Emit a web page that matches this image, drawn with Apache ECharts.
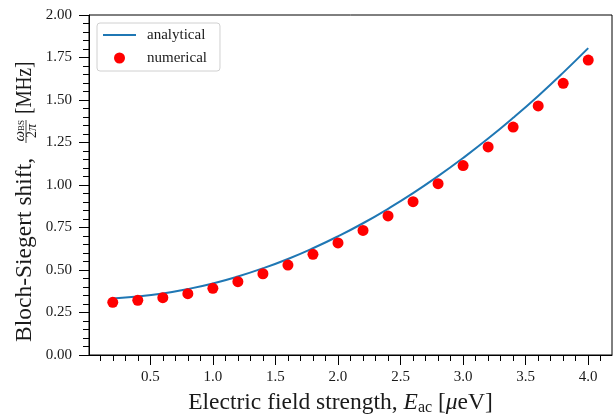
<!DOCTYPE html>
<html>
<head>
<meta charset="utf-8">
<script src="https://cdn.jsdelivr.net/npm/echarts@6/dist/echarts.min.js"></script>
<style>
  html, body { margin: 0; padding: 0; background: #fff; }
  #main { width: 613px; height: 414px; }
</style>
</head>
<body>
<div id="main"></div>
<script>
    // field strength E_ac [ueV]
    var fieldValues = [0.2, 0.4, 0.6, 0.8, 1.0, 1.2, 1.4, 1.6, 1.8, 2.0,
                       2.2, 2.4, 2.6, 2.8, 3.0, 3.2, 3.4, 3.6, 3.8, 4.0];
    // analytical curve
    var analyticalValues = [0.333, 0.344, 0.362, 0.388, 0.421, 0.462, 0.510, 0.565, 0.628, 0.698,
                            0.775, 0.860, 0.952, 1.052, 1.159, 1.273, 1.395, 1.524, 1.661, 1.805];
    // numerical points
    var numericalValues = [0.310, 0.322, 0.337, 0.361, 0.392, 0.431, 0.478, 0.529, 0.592, 0.659,
                           0.733, 0.818, 0.902, 1.008, 1.114, 1.224, 1.341, 1.465, 1.598, 1.735];
    var xMajorTicks = [0.5, 1.0, 1.5, 2.0, 2.5, 3.0, 3.5, 4.0];
    var xMinorTicks = [0.1, 0.2, 0.3, 0.4, 0.6, 0.7, 0.8, 0.9, 1.1, 1.2, 1.3, 1.4, 1.6, 1.7, 1.8, 1.9,
                       2.1, 2.2, 2.3, 2.4, 2.6, 2.7, 2.8, 2.9, 3.1, 3.2, 3.3, 3.4, 3.6, 3.7, 3.8, 3.9, 4.1];

    var serif = "'Liberation Serif', 'DejaVu Serif', serif";
    var ink = '#1a1a1a';

    function pairs(xs, ys) {
        var out = [];
        for (var i = 0; i < xs.length; i++) out.push([xs[i], ys[i]]);
        return out;
    }

    var chart = echarts.init(document.getElementById('main'), null, {renderer: 'canvas'});
    var option = {
        animation: false,
        grid: {
            left: 89, right: 1, top: 15, bottom: 59,
            outerBoundsMode: 'none',
            containLabel: false,
            show: true, borderColor: '#000', borderWidth: 1,
            backgroundColor: 'transparent'
        },
        legend: {
            orient: 'vertical',
            left: 97, top: 23,
            padding: [4, 13, 5, 5],
            itemWidth: 33, itemHeight: 11, itemGap: 7,
            borderColor: '#d0d0d0', borderWidth: 1, borderRadius: 3,
            backgroundColor: 'rgba(255,255,255,0.8)',
            textStyle: {fontFamily: serif, fontSize: 15, color: ink, lineHeight: 16, padding: [0, 0, 0, 6]},
            data: [
                {name: 'analytical', itemStyle: {opacity: 0, borderWidth: 0}},
                {name: 'numerical', icon: 'circle'}
            ]
        },
        xAxis: [
            {
                type: 'value', min: 0.01, max: 4.19,
                name: 'Electric field strength, {i|E}{sub|ac} [{i|μ}eV]',
                nameLocation: 'middle', nameGap: 35,
                nameTextStyle: {
                    fontFamily: serif, fontSize: 23.5, color: ink, lineHeight: 26,
                    padding: [0, 20, 0, 0],
                    rich: {
                        i: {fontFamily: serif, fontSize: 23.5, fontStyle: 'italic', color: ink, lineHeight: 26},
                        sub: {fontFamily: serif, fontSize: 16, color: ink, lineHeight: 14, verticalAlign: 'bottom'}
                    }
                },
                axisLine: {show: true, lineStyle: {color: '#000', width: 1}},
                axisTick: {show: true, length: 10, customValues: xMajorTicks, lineStyle: {color: '#000'}},
                axisLabel: {
                    customValues: xMajorTicks, margin: 15,
                    fontFamily: serif, fontSize: 15, color: ink,
                    formatter: function (v) { return v.toFixed(1); }
                },
                splitLine: {show: false}
            },
            {
                type: 'value', min: 0.01, max: 4.19, position: 'bottom',
                axisLine: {show: false},
                axisTick: {show: true, length: 6, customValues: xMinorTicks, lineStyle: {color: '#000'}},
                axisLabel: {show: false},
                splitLine: {show: false}
            }
        ],
        yAxis: {
            type: 'value', min: 0, max: 2, interval: 0.25,
            axisLine: {show: true, lineStyle: {color: '#000', width: 1}},
            axisTick: {show: true, length: 10, lineStyle: {color: '#000'}},
            minorTick: {show: true, splitNumber: 5, length: 6, lineStyle: {color: '#000'}},
            axisLabel: {
                margin: 17, fontFamily: serif, fontSize: 15, color: ink,
                formatter: function (v) { return v.toFixed(2); }
            },
            splitLine: {show: false}
        },
        graphic: [
            {
                // rotated y-axis title with a stacked fraction
                type: 'group',
                x: 25, y: 342,
                rotation: Math.PI / 2,
                children: [
                    {type: 'text', x: 0, y: 0, style: {text: 'Bloch-Siegert shift,', font: '23.5px ' + serif, fill: ink, verticalAlign: 'middle', align: 'left'}},
                    {type: 'text', x: 211, y: -4.5, style: {text: 'ω', font: 'italic 15px ' + serif, fill: ink, verticalAlign: 'middle', align: 'right'}},
                    {type: 'text', x: 211, y: -3, style: {text: 'BS', font: '9px ' + serif, fill: ink, verticalAlign: 'middle', align: 'left'}},
                    {type: 'line', shape: {x1: 199, y1: 1, x2: 222, y2: 1}, style: {stroke: ink, lineWidth: 0.8}},
                    {type: 'text', x: 211, y: 7, style: {text: '2', font: '14px ' + serif, fill: ink, verticalAlign: 'middle', align: 'right'}},
                    {type: 'text', x: 211, y: 7, style: {text: 'π', font: 'italic 14px ' + serif, fill: ink, verticalAlign: 'middle', align: 'left'}},
                    {type: 'text', x: 228, y: 0, scaleX: 0.82, style: {text: '[MHz]', font: '23.5px ' + serif, fill: ink, verticalAlign: 'middle', align: 'left'}}
                ]
            }
        ],
        series: [
            {
                name: 'analytical',
                type: 'line',
                xAxisIndex: 0,
                data: pairs(fieldValues, analyticalValues),
                symbol: 'none',
                smooth: true,
                lineStyle: {color: '#1f77b4', width: 2},
                itemStyle: {color: '#1f77b4'},
                z: 2
            },
            {
                name: 'numerical',
                type: 'scatter',
                xAxisIndex: 0,
                data: pairs(fieldValues, numericalValues),
                symbol: 'circle',
                symbolSize: 11,
                itemStyle: {color: '#ff0000', opacity: 1},
                z: 3
            }
        ]
    };
    chart.setOption(option);
</script>
</body>
</html>
